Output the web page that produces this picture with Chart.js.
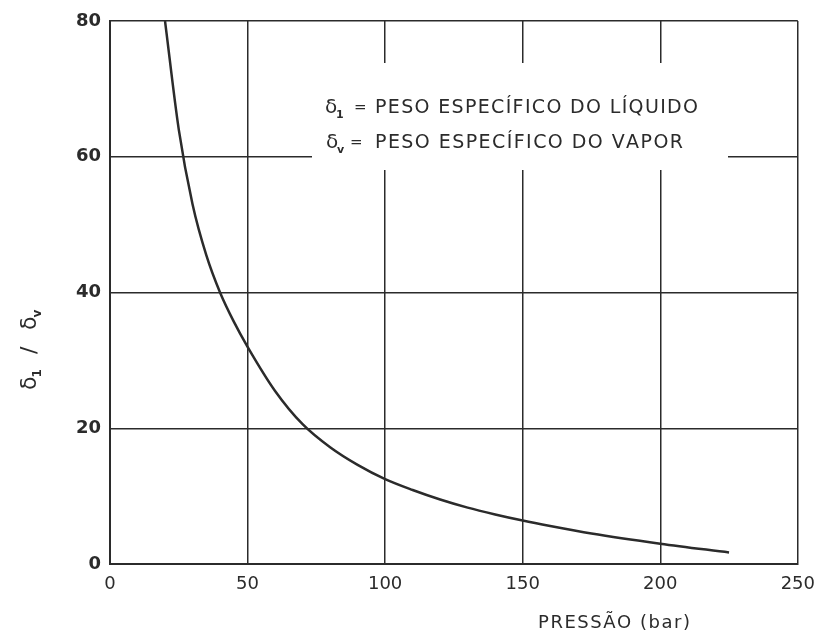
<!DOCTYPE html>
<html>
<head>
<meta charset="utf-8">
<script src="https://cdn.jsdelivr.net/npm/chart.js@4"></script>
<style>
  html, body { margin: 0; padding: 0; background: #fff; }
  canvas { display: block; }
</style>
</head>
<body>
<canvas id="c" width="825" height="632"></canvas>
<script>
// ---- data ----
const pressure = [20, 25, 30, 35, 40, 45, 50, 60, 70, 80, 90, 100, 110, 120, 130, 140, 150, 160, 175, 200, 225]; // bar
const ratio    = [80, 64, 53, 45.5, 40, 35.7, 32, 25.5, 20.6, 17.2, 14.6, 12.5, 10.9, 9.5, 8.3, 7.3, 6.4, 5.6, 4.5, 3.0, 1.7]; // δl/δv
const xTicks = [0, 50, 100, 150, 200, 250];
const yTicks = [0, 20, 40, 60, 80];
const xTitle = 'PRESSÃO (bar)';
const legendLines = [
  { sub: '1', text: 'PESO ESPECÍFICO DO LÍQUIDO' },
  { sub: 'v', text: 'PESO ESPECÍFICO DO VAPOR' }
];

const INK = '#2b2b2b';
const FONT = '"DejaVu Sans", sans-serif';

function drawSpaced(ctx, text, x, y, targetWidth) {
  const chars = Array.from(text);
  let natural = 0;
  const widths = chars.map(ch => { const w = ctx.measureText(ch).width; natural += w; return w; });
  const extra = chars.length > 1 ? (targetWidth - natural) / (chars.length - 1) : 0;
  let cx = x;
  chars.forEach((ch, i) => { ctx.fillText(ch, cx, y); cx += widths[i] + extra; });
}

const overlay = {
  id: 'overlay',
  afterDraw(chart) {
    const ctx = chart.ctx;
    ctx.save();
    // white patch behind the note (interrupts grid lines as in the original)
    ctx.fillStyle = '#fff';
    ctx.fillRect(312, 63, 728 - 312, 170 - 63);

    ctx.fillStyle = INK;
    ctx.textAlign = 'left';
    ctx.textBaseline = 'alphabetic';
    const rows = [
      { base: 113, dx: 325, subx: 336, eqx: 354, tx: 375, tw: 323 },
      { base: 148, dx: 326, subx: 337, eqx: 350, tx: 375, tw: 308 }
    ];
    legendLines.forEach((l, i) => {
      const r = rows[i];
      ctx.font = '20px ' + FONT;
      ctx.fillText('δ', r.dx, r.base);
      ctx.font = 'bold 11px ' + FONT;
      ctx.fillText(l.sub, r.subx, r.base + 5);
      ctx.font = '15px ' + FONT;
      ctx.fillText('=', r.eqx, r.base - 1);
      ctx.font = '19px ' + FONT;
      drawSpaced(ctx, l.text, r.tx, r.base, r.tw);
    });

    // x axis title
    ctx.font = '18px ' + FONT;
    drawSpaced(ctx, xTitle, 538, 628, 152);

    // y axis title (rotated)
    ctx.translate(36, 390);
    ctx.rotate(-Math.PI / 2);
    ctx.font = '22px ' + FONT;
    ctx.fillText('δ', 0, 0);
    const w = ctx.measureText('δ').width;
    ctx.font = 'bold 12px ' + FONT;
    ctx.fillText('1', w - 1, 5);
    ctx.font = '22px ' + FONT;
    ctx.fillText('/', 36, 0);
    ctx.fillText('δ', 60, 0);
    ctx.font = 'bold 12px ' + FONT;
    ctx.fillText('v', 60 + w - 1, 5);
    ctx.restore();
  }
};

new Chart(document.getElementById('c'), {
  type: 'scatter',
  data: {
    datasets: [{
      data: pressure.map((p, i) => ({ x: p, y: ratio[i] })),
      showLine: true,
      borderColor: INK,
      borderWidth: 2.5,
      pointRadius: 0,
      cubicInterpolationMode: 'monotone',
      fill: false
    }]
  },
  options: {
    responsive: false,
    animation: false,
    layout: { padding: { top: 21, right: 25, left: 0, bottom: 0 } },
    plugins: { legend: { display: false }, tooltip: { enabled: false } },
    scales: {
      x: {
        type: 'linear', min: 0, max: 250,
        afterBuildTicks: s => { s.ticks = xTicks.map(v => ({ value: v })); },
        afterFit: s => { s.height = 68; },
        ticks: { color: INK, font: { family: FONT, size: 18 }, padding: 10 },
        grid: { color: INK, lineWidth: 1.5, drawTicks: false },
        border: { color: INK, width: 2 }
      },
      y: {
        type: 'linear', min: 0, max: 80,
        afterBuildTicks: s => { s.ticks = yTicks.map(v => ({ value: v })); },
        afterFit: s => { s.width = 110; },
        ticks: { color: INK, font: { family: FONT, size: 18, weight: 'bold' }, padding: 9 },
        grid: { color: INK, lineWidth: 1.5, drawTicks: false },
        border: { color: INK, width: 2 }
      }
    }
  },
  plugins: [overlay]
});
</script>
</body>
</html>
